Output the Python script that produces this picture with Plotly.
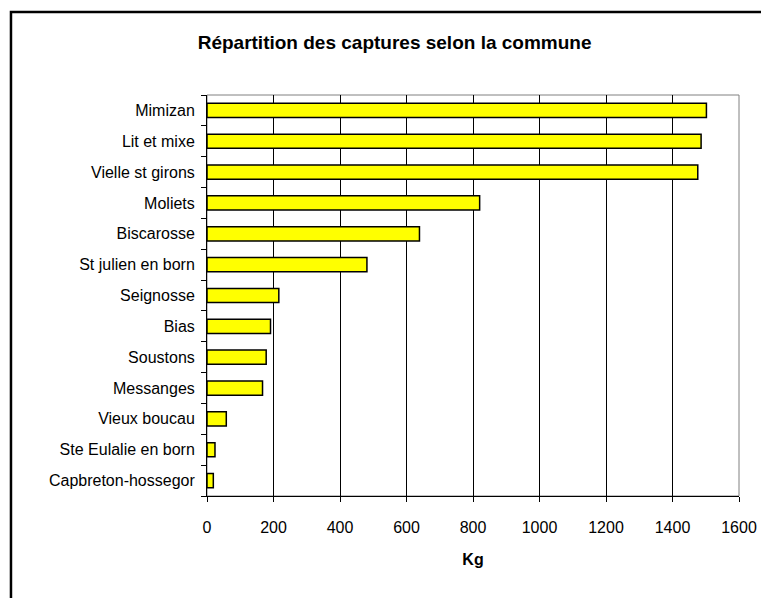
import plotly.graph_objects as go

communes = [
    'Mimizan', 'Lit et mixe', 'Vielle st girons', 'Moliets', 'Biscarosse',
    'St julien en born', 'Seignosse', 'Bias', 'Soustons', 'Messanges',
    'Vieux boucau', 'Ste Eulalie en born', 'Capbreton-hossegor',
]
captures_kg = [1502, 1486, 1476, 820, 639, 481, 216, 191, 178, 167, 58, 24, 19]
x_ticks = [0, 200, 400, 600, 800, 1000, 1200, 1400, 1600]

# the page body has an 8px margin, so the figure is drawn 8px smaller
W, H = 761, 590
ML, MR, MT, MB = 199, 26, 87, 102
pw = W - ML - MR
ph = H - MT - MB


def px_to_paper_x(px):
    return (px - ML) / pw


def px_to_paper_y(py):
    return (H - MB - py) / ph


font = 'Liberation Sans, Arial, sans-serif'

fig = go.Figure(
    [go.Bar(
        x=captures_kg,
        y=communes,
        orientation='h',
        width=0.46,
        marker=dict(color='#ffff00', line=dict(color='black', width=1.5)),
        hoverinfo='x+y',
    )]
)

fig.update_layout(
    width=W,
    height=H,
    margin=dict(l=ML, r=MR, t=MT, b=MB),
    paper_bgcolor='white',
    plot_bgcolor='white',
    showlegend=False,
    font=dict(family=font, size=16, color='black'),
    title=dict(
        text='<b>Répartition des captures selon la commune</b>',
        x=px_to_paper_x(388), xref='paper', xanchor='center',
        y=1 - 34 / H, yanchor='middle',
        font=dict(size=19, family=font, color='black'),
    ),
    xaxis=dict(
        range=[0, 1600],
        tickvals=x_ticks,
        showgrid=True,
        gridcolor='black',
        gridwidth=1,
        zeroline=False,
        showline=True,
        linecolor='black',
        linewidth=1,
        ticks='outside',
        ticklen=5,
        tickcolor='black',
        tickfont=dict(size=16),
        ticklabelstandoff=12,
        title=dict(text='<b>Kg</b>', font=dict(size=16), standoff=18),
    ),
    yaxis=dict(
        type='category',
        categoryorder='array',
        categoryarray=communes[::-1],
        showgrid=False,
        zeroline=False,
        showline=True,
        linecolor='black',
        linewidth=1,
        ticks='outside',
        tickson='boundaries',
        ticklen=5,
        tickcolor='black',
        tickfont=dict(size=16),
        ticklabelstandoff=8,
    ),
    shapes=[
        # grey plot-area border (top and right)
        dict(type='rect', xref='paper', yref='paper', x0=0, x1=1, y0=0, y1=1,
             line=dict(color='#808080', width=1), layer='below'),
        # outer chart frame
        dict(type='rect', xref='paper', yref='paper',
             x0=px_to_paper_x(1.5), x1=px_to_paper_x(W + 10),
             y0=px_to_paper_y(H + 10), y1=px_to_paper_y(4),
             line=dict(color='black', width=2.5)),
    ],
)

fig.write_html('out.html')
